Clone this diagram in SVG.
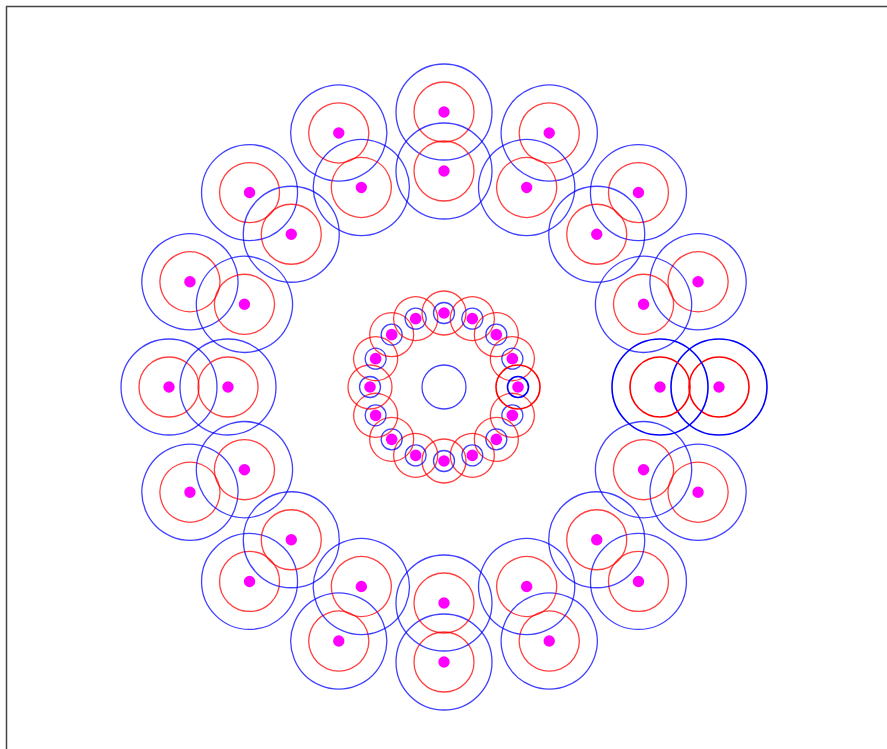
<svg xmlns="http://www.w3.org/2000/svg" xmlns:xlink="http://www.w3.org/1999/xlink" width="887" height="749" viewBox="0 0 887 749">
<style>
.b{fill:none;stroke:#0000ff;stroke-width:1.3;stroke-opacity:0.75}
.r{fill:none;stroke:#ff0000;stroke-width:1.3;stroke-opacity:0.75}
.bh{fill:none;stroke:#0000ff;stroke-width:1.6}
.rh{fill:none;stroke:#ff0000;stroke-width:1.6}
.d{fill:#ff00ff;stroke:none}
</style>
<defs>
<g id="big"><circle class="b" r="48"/><circle class="r" r="30"/><circle class="d" r="5.7"/></g>
<g id="bigH"><circle class="bh" r="48"/><circle class="rh" r="30"/><circle class="d" r="5.7"/></g>
<g id="small"><circle class="r" r="22"/><circle class="b" r="10.5"/><circle class="d" r="5.8"/></g>
<g id="smallH"><circle class="rh" r="22"/><circle class="bh" r="10.5"/><circle class="d" r="5.8"/></g>
</defs>
<rect width="887" height="749" fill="#ffffff"/>
<path d="M6.5,749 V6.5 H887" fill="none" stroke="#444444" stroke-width="1.5"/>
<g id="connectors"/>
<g id="center"><circle class="b" cx="444" cy="387" r="22"/></g>
<g id="outer-ring">
<g id="o1" transform="rotate(22.5 444 387)"><use xlink:href="#big" x="719" y="387"/><use xlink:href="#big" x="660" y="387"/></g>
<g id="o2" transform="rotate(45 444 387)"><use xlink:href="#big" x="719" y="387"/><use xlink:href="#big" x="660" y="387"/></g>
<g id="o3" transform="rotate(67.5 444 387)"><use xlink:href="#big" x="719" y="387"/><use xlink:href="#big" x="660" y="387"/></g>
<g id="o4" transform="rotate(90 444 387)"><use xlink:href="#big" x="719" y="387"/><use xlink:href="#big" x="660" y="387"/></g>
<g id="o5" transform="rotate(112.5 444 387)"><use xlink:href="#big" x="719" y="387"/><use xlink:href="#big" x="660" y="387"/></g>
<g id="o6" transform="rotate(135 444 387)"><use xlink:href="#big" x="719" y="387"/><use xlink:href="#big" x="660" y="387"/></g>
<g id="o7" transform="rotate(157.5 444 387)"><use xlink:href="#big" x="719" y="387"/><use xlink:href="#big" x="660" y="387"/></g>
<g id="o8" transform="rotate(180 444 387)"><use xlink:href="#big" x="719" y="387"/><use xlink:href="#big" x="660" y="387"/></g>
<g id="o9" transform="rotate(202.5 444 387)"><use xlink:href="#big" x="719" y="387"/><use xlink:href="#big" x="660" y="387"/></g>
<g id="o10" transform="rotate(225 444 387)"><use xlink:href="#big" x="719" y="387"/><use xlink:href="#big" x="660" y="387"/></g>
<g id="o11" transform="rotate(247.5 444 387)"><use xlink:href="#big" x="719" y="387"/><use xlink:href="#big" x="660" y="387"/></g>
<g id="o12" transform="rotate(270 444 387)"><use xlink:href="#big" x="719" y="387"/><use xlink:href="#big" x="660" y="387"/></g>
<g id="o13" transform="rotate(292.5 444 387)"><use xlink:href="#big" x="719" y="387"/><use xlink:href="#big" x="660" y="387"/></g>
<g id="o14" transform="rotate(315 444 387)"><use xlink:href="#big" x="719" y="387"/><use xlink:href="#big" x="660" y="387"/></g>
<g id="o15" transform="rotate(337.5 444 387)"><use xlink:href="#big" x="719" y="387"/><use xlink:href="#big" x="660" y="387"/></g>
<g id="o0"><use xlink:href="#bigH" x="719" y="387"/><use xlink:href="#bigH" x="660" y="387"/></g>
</g>
<g id="inner-ring">
<g id="i1" transform="rotate(22.5 444 387)"><use xlink:href="#small" x="518" y="387"/></g>
<g id="i2" transform="rotate(45 444 387)"><use xlink:href="#small" x="518" y="387"/></g>
<g id="i3" transform="rotate(67.5 444 387)"><use xlink:href="#small" x="518" y="387"/></g>
<g id="i4" transform="rotate(90 444 387)"><use xlink:href="#small" x="518" y="387"/></g>
<g id="i5" transform="rotate(112.5 444 387)"><use xlink:href="#small" x="518" y="387"/></g>
<g id="i6" transform="rotate(135 444 387)"><use xlink:href="#small" x="518" y="387"/></g>
<g id="i7" transform="rotate(157.5 444 387)"><use xlink:href="#small" x="518" y="387"/></g>
<g id="i8" transform="rotate(180 444 387)"><use xlink:href="#small" x="518" y="387"/></g>
<g id="i9" transform="rotate(202.5 444 387)"><use xlink:href="#small" x="518" y="387"/></g>
<g id="i10" transform="rotate(225 444 387)"><use xlink:href="#small" x="518" y="387"/></g>
<g id="i11" transform="rotate(247.5 444 387)"><use xlink:href="#small" x="518" y="387"/></g>
<g id="i12" transform="rotate(270 444 387)"><use xlink:href="#small" x="518" y="387"/></g>
<g id="i13" transform="rotate(292.5 444 387)"><use xlink:href="#small" x="518" y="387"/></g>
<g id="i14" transform="rotate(315 444 387)"><use xlink:href="#small" x="518" y="387"/></g>
<g id="i15" transform="rotate(337.5 444 387)"><use xlink:href="#small" x="518" y="387"/></g>
<g id="i0"><use xlink:href="#smallH" x="518" y="387"/></g>
</g>
</svg>
